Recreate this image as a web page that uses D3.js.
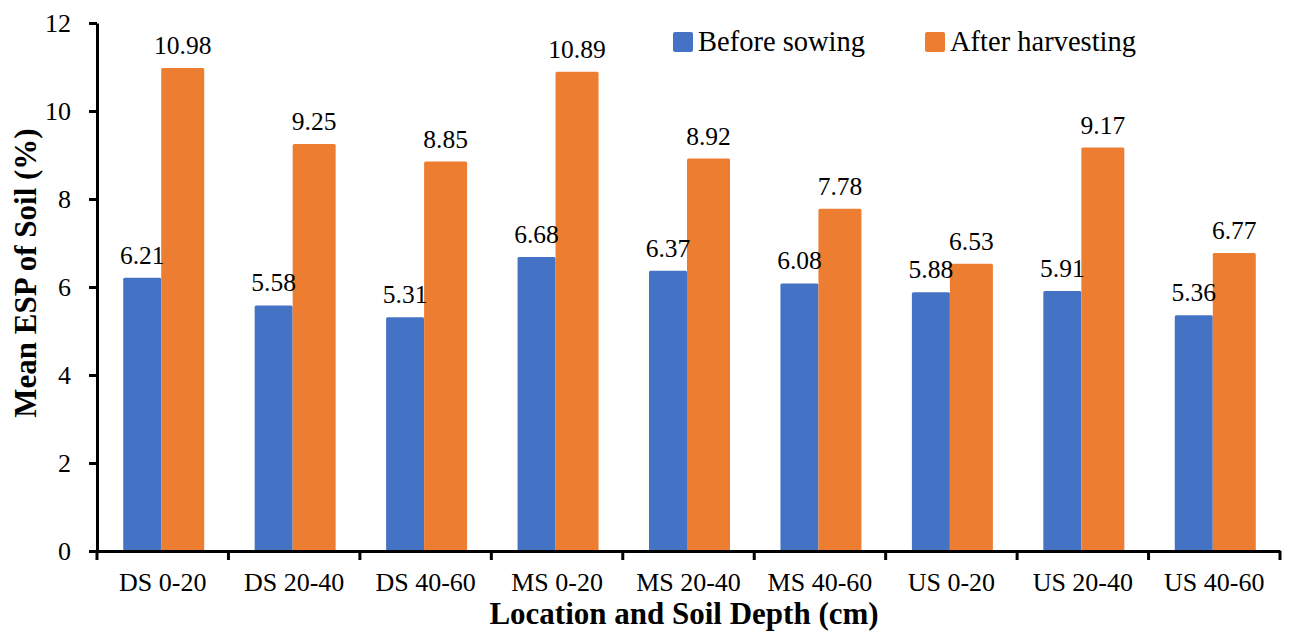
<!DOCTYPE html>
<html>
<head>
<meta charset="utf-8">
<script src="https://cdn.jsdelivr.net/npm/d3@7"></script>
<style>
  body { margin: 0; background: #fff; }
  text { font-family: 'Liberation Serif', 'Times New Roman', serif; }
</style>
</head>
<body>
<div id="chart"></div>
<script>
// Location / depth categories
var categories = ["DS 0-20", "DS 20-40", "DS 40-60", "MS 0-20", "MS 20-40", "MS 40-60", "US 0-20", "US 20-40", "US 40-60"];
var seriesNames = ["Before sowing", "After harvesting"];
var beforeSowing = [6.21, 5.58, 5.31, 6.68, 6.37, 6.08, 5.88, 5.91, 5.36];
var afterHarvesting = [10.98, 9.25, 8.85, 10.89, 8.92, 7.78, 6.53, 9.17, 6.77];
var yTicks = [0, 2, 4, 6, 8, 10, 12];

const FONT = "'Liberation Serif', 'Times New Roman', serif";

function init() {
    const width = 1290;
    const height = 635;
    const colors = ["#4472C4", "#ED7D31"];

    var svg = d3.select("#chart")
        .append("svg")
        .attr("width", width)
        .attr("height", height)
        .style("display", "block");

    var xScale = d3.scaleBand()
        .domain(categories)
        .range([97, 1280]);

    var yScale = d3.scaleLinear()
        .domain([0, 12])
        .range([551, 23]);

    // bar offsets inside each band (blue slightly narrower, as in the original)
    var barOffsets = [[-39.5, 38], [-1.5, 43]];

    var table = categories.map((c, i) => ({ cat: c, values: [beforeSowing[i], afterHarvesting[i]] }));

    var groups = svg.selectAll("g.cat")
        .data(table)
        .enter()
        .append("g")
        .attr("class", "cat")
        .attr("transform", d => `translate(${xScale(d.cat) + xScale.bandwidth() / 2},0)`);

    groups.selectAll("rect")
        .data(d => d.values)
        .enter()
        .append("rect")
        .attr("x", (d, i) => barOffsets[i][0])
        .attr("width", (d, i) => barOffsets[i][1])
        .attr("y", d => yScale(d))
        .attr("height", d => yScale(0) - yScale(d))
        .attr("rx", 1.5)
        .attr("fill", (d, i) => colors[i]);

    // value labels
    groups.selectAll("text")
        .data(d => d.values)
        .enter()
        .append("text")
        .attr("x", (d, i) => barOffsets[i][0] + barOffsets[i][1] / 2)
        .attr("y", d => yScale(d) - 14)
        .attr("text-anchor", "middle")
        .style("font-family", FONT)
        .style("font-size", "25.5px")
        .attr("fill", "#000")
        .text(d => d.toFixed(2));

    // y axis
    var yAxis = svg.append("g")
        .attr("transform", "translate(97,0)")
        .call(d3.axisLeft(yScale).tickValues(yTicks).tickSize(8).tickPadding(18).tickSizeOuter(0));
    yAxis.attr("font-family", FONT);
    yAxis.select(".domain").attr("stroke", "#000").attr("stroke-width", 3);
    yAxis.selectAll(".tick line").attr("stroke", "#000").attr("stroke-width", 3);
    yAxis.selectAll(".tick text").style("font-size", "26px").style("font-family", FONT).attr("fill", "#000");

    // x axis, ticks at category boundaries
    var xAxis = svg.append("g")
        .attr("transform", "translate(0,551)")
        .call(d3.axisBottom(xScale).tickSize(0).tickPadding(22).tickSizeOuter(0));
    xAxis.attr("font-family", FONT);
    xAxis.select(".domain").attr("stroke", "#000").attr("stroke-width", 3);
    xAxis.selectAll(".tick text").style("font-size", "26px").style("font-family", FONT).attr("fill", "#000");
    var boundaries = categories.map(c => xScale(c)).concat([xScale.range()[1]]);
    xAxis.selectAll("line.bound")
        .data(boundaries)
        .enter()
        .append("line")
        .attr("class", "bound")
        .attr("x1", d => d).attr("x2", d => d)
        .attr("y1", 0).attr("y2", 9)
        .attr("stroke", "#000")
        .attr("stroke-width", 3);

    // axis titles
    svg.append("text")
        .attr("x", 684)
        .attr("y", 624)
        .attr("text-anchor", "middle")
        .style("font-family", FONT)
        .style("font-size", "31px")
        .style("font-weight", "bold")
        .text("Location and Soil Depth (cm)");

    svg.append("text")
        .attr("transform", "translate(36,273) rotate(-90)")
        .attr("text-anchor", "middle")
        .style("font-family", FONT)
        .style("font-size", "31px")
        .style("font-weight", "bold")
        .text("Mean ESP of Soil (%)");

    // legend
    var legendX = [673, 925];
    var legend = svg.selectAll("g.legend")
        .data(seriesNames)
        .enter()
        .append("g")
        .attr("class", "legend")
        .attr("transform", (d, i) => `translate(${legendX[i]},32)`);
    legend.append("rect")
        .attr("width", 20)
        .attr("height", 20)
        .attr("rx", 2)
        .attr("fill", (d, i) => colors[i]);
    legend.append("text")
        .attr("x", 25)
        .attr("y", 19)
        .style("font-family", FONT)
        .style("font-size", "28.5px")
        .text(d => d);
}

init();
</script>
</body>
</html>
